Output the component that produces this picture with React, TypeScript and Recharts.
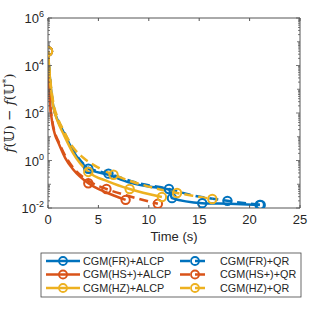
import React from "react";
import { LineChart, Line, XAxis, YAxis } from "recharts";

// time (s) and f(U) - f(U*) values
const frAlcpT = [0, 0.1, 0.25, 0.5, 1, 1.5, 2.5, 4, 6, 8, 10, 12, 12.3, 15.3, 18, 21];
const frAlcpV = [4e4, 9e3, 1.5e3, 220, 45, 17, 2.5, 0.45, 0.25, 0.12, 0.08, 0.06, 0.026, 0.016, 0.015, 0.0135];
const frAlcpM = [0, 4, 12.3, 15.3, 21];

const frQrT = [0, 0.1, 0.25, 0.5, 1, 1.5, 2.5, 4, 6, 9, 12, 14, 17.8, 21.1];
const frQrV = [4e4, 1e4, 1.7e3, 250, 50, 19, 2.8, 0.5, 0.28, 0.11, 0.063, 0.037, 0.02, 0.0135];
const frQrM = [0, 6, 12, 17.8, 21.1];

const hsAlcpT = [0, 0.1, 0.2, 0.4, 0.7, 1.0, 1.7, 2.5, 4, 5.8, 7.7];
const hsAlcpV = [4e4, 2.5e3, 280, 45, 12, 6, 1.3, 0.42, 0.11, 0.045, 0.022];
const hsAlcpM = [0, 4, 7.7];

const hsQrT = [0, 0.1, 0.2, 0.4, 0.7, 1.0, 1.7, 2.5, 4, 5.8, 8, 10.9];
const hsQrV = [4e4, 3e3, 330, 55, 14, 7, 1.6, 0.5, 0.14, 0.063, 0.032, 0.015];
const hsQrM = [0, 5.8, 10.9];

const hzAlcpT = [0, 0.1, 0.25, 0.5, 1, 1.5, 2.5, 4, 6, 8.1, 11.3];
const hzAlcpV = [4e4, 1e4, 1.6e3, 220, 40, 14, 2, 0.33, 0.13, 0.063, 0.029];
const hzAlcpM = [0, 4, 8.1, 11.3];

const hzQrT = [0, 0.1, 0.25, 0.5, 1, 1.5, 2.5, 3.5, 5, 6.5, 8.3, 10.5, 12.8, 14.5, 16.3];
const hzQrV = [4e4, 1.1e4, 2e3, 320, 56, 20, 3.5, 1.3, 0.5, 0.25, 0.13, 0.07, 0.043, 0.032, 0.024];
const hzQrM = [0, 6.5, 12.8, 16.3];

const xTicks = [0, 5, 10, 15, 20, 25];
const yMajor = [0.01, 1, 100, 1e4, 1e6];
const yMajorExp = ["-2", "0", "2", "4", "6"];
const yDecades = [0.01, 0.1, 1, 10, 100, 1e3, 1e4, 1e5];
const yMinorMul = [2, 3, 4, 5, 6, 7, 8, 9];

const legendLeft = ["CGM(FR)+ALCP", "CGM(HS+)+ALCP", "CGM(HZ)+ALCP"];
const legendRight = ["CGM(FR)+QR", "CGM(HS+)+QR", "CGM(HZ)+QR"];

const BLUE = "#0072BD";
const ORANGE = "#D95319";
const YELLOW = "#EDB120";
const colors = [BLUE, ORANGE, YELLOW];
const AX = "#555";
const TXT = "#262626";
const FONT = "Liberation Sans, Arial, sans-serif";

const build = (t: number[], v: number[], m: number[]) =>
  t.map((x, i) => ({ t: x, v: v[i], m: m.includes(x) }));

const yAllTicks: number[] = [...yMajor];
yDecades.forEach((d) => {
  if (!yMajor.includes(d)) yAllTicks.push(d);
  yMinorMul.forEach((k) => yAllTicks.push(+(d * k).toPrecision(3)));
});

const makeDot = (color: string) => (props: any) => {
  const { cx, cy, payload, index } = props;
  if (!payload.m || cx == null || cy == null) return <g key={`d${index}`} />;
  return <circle key={`d${index}`} cx={cx} cy={cy} r={4.2} fill="none" stroke={color} strokeWidth={2} />;
};

const BottomTick = (props: any) => {
  const { x, y, payload } = props;
  return (
    <g>
      <line x1={x} x2={x} y1={y} y2={y - 3} stroke={AX} />
      <text x={x} y={y + 16} textAnchor="middle" fontSize={13} fill={TXT} fontFamily={FONT}>
        {payload.value}
      </text>
    </g>
  );
};

const TopTick = (props: any) => {
  const { x, y } = props;
  return <line x1={x} x2={x} y1={y} y2={y + 3} stroke={AX} />;
};

const LeftTick = (props: any) => {
  const { x, y, payload } = props;
  const idx = yMajor.indexOf(payload.value);
  const len = idx >= 0 ? 4 : yDecades.includes(payload.value) ? 3 : 2;
  return (
    <g>
      <line x1={x} x2={x + len} y1={y} y2={y} stroke={AX} strokeWidth={0.8} />
      {idx >= 0 && (
        <text x={x - 4} y={y + 5} textAnchor="end" fontSize={13} fill={TXT} fontFamily={FONT}>
          <tspan>10</tspan>
          <tspan dy={-6} fontSize={9}>{yMajorExp[idx]}</tspan>
        </text>
      )}
    </g>
  );
};

const RightTick = (props: any) => {
  const { x, y, payload } = props;
  const len = yMajor.includes(payload.value) ? 4 : yDecades.includes(payload.value) ? 3 : 2;
  return <line x1={x} x2={x - len} y1={y} y2={y} stroke={AX} strokeWidth={0.8} />;
};

const series = [
  { key: "frAlcp", data: build(frAlcpT, frAlcpV, frAlcpM), color: BLUE, dash: undefined },
  { key: "hsAlcp", data: build(hsAlcpT, hsAlcpV, hsAlcpM), color: ORANGE, dash: undefined },
  { key: "frQr", data: build(frQrT, frQrV, frQrM), color: BLUE, dash: "9 5" },
  { key: "hsQr", data: build(hsQrT, hsQrV, hsQrM), color: ORANGE, dash: "9 5" },
  { key: "hzAlcp", data: build(hzAlcpT, hzAlcpV, hzAlcpM), color: YELLOW, dash: undefined },
  { key: "hzQr", data: build(hzQrT, hzQrV, hzQrM), color: YELLOW, dash: "9 5" },
];

const Overlay = () => (
  <svg width={332} height={332} style={{ position: "absolute", left: 0, top: 0, pointerEvents: "none" }}>
    <text transform="translate(14,113) rotate(-90)" textAnchor="middle" fontSize={13.5} fill={TXT} fontFamily="DejaVu Serif, serif">
      <tspan fontStyle="italic">f</tspan>
      <tspan>(𝕌) − </tspan>
      <tspan fontStyle="italic">f</tspan>
      <tspan>(𝕌</tspan>
      <tspan dy={-5} fontSize={9}>*</tspan>
      <tspan dy={5}>)</tspan>
    </text>
    <text x={174} y={241} textAnchor="middle" fontSize={13} fill={TXT} fontFamily={FONT}>Time (s)</text>
    <rect x={41} y={253} width={260} height={44} fill="white" stroke="#444" strokeWidth={0.8} />
    {legendLeft.map((name, i) => {
      const y = 261 + i * 13.5;
      return (
        <g key={name}>
          <line x1={46} x2={80} y1={y} y2={y} stroke={colors[i]} strokeWidth={2.5} />
          <circle cx={63} cy={y} r={4} fill="none" stroke={colors[i]} strokeWidth={1.8} />
          <text x={83} y={y + 3.8} fontSize={10.8} fill={TXT} fontFamily={FONT}>{name}</text>
        </g>
      );
    })}
    {legendRight.map((name, i) => {
      const y = 261 + i * 13.5;
      return (
        <g key={name}>
          <line x1={180} x2={208} y1={y} y2={y} stroke={colors[i]} strokeWidth={2.5} strokeDasharray="10 5" />
          <circle cx={195} cy={y} r={4} fill="none" stroke={colors[i]} strokeWidth={1.8} />
          <text x={220} y={y + 3.8} fontSize={10.8} fill={TXT} fontFamily={FONT}>{name}</text>
        </g>
      );
    })}
  </svg>
);

export default function App() {
  return (
    <div style={{ position: "absolute", left: 0, top: 0, width: 332, height: 332, background: "white" }}>
      <LineChart width={332} height={332} margin={{ top: 17, right: 31, bottom: 94, left: 8 }}>
        <XAxis
          xAxisId="b"
          dataKey="t"
          type="number"
          domain={[0, 25]}
          ticks={xTicks}
          allowDataOverflow
          height={30}
          tickSize={0}
          tickMargin={0}
          tickLine={false}
          axisLine={{ stroke: AX }}
          tick={<BottomTick />}
          interval={0}
        />
        <XAxis
          xAxisId="top"
          orientation="top"
          dataKey="t"
          type="number"
          domain={[0, 25]}
          ticks={xTicks}
          allowDataOverflow
          height={1}
          tickSize={0}
          tickMargin={0}
          tickLine={false}
          axisLine={{ stroke: AX }}
          tick={<TopTick />}
          interval={0}
        />
        <YAxis
          yAxisId="l"
          scale="log"
          type="number"
          domain={[0.01, 1e6]}
          ticks={yAllTicks}
          allowDataOverflow
          width={40}
          tickSize={0}
          tickMargin={0}
          tickLine={false}
          axisLine={{ stroke: AX }}
          tick={<LeftTick />}
          interval={0}
        />
        <YAxis
          yAxisId="r"
          orientation="right"
          scale="log"
          type="number"
          domain={[0.01, 1e6]}
          ticks={yAllTicks}
          allowDataOverflow
          width={1}
          tickSize={0}
          tickMargin={0}
          tickLine={false}
          axisLine={{ stroke: AX }}
          tick={<RightTick />}
          interval={0}
        />
        {series.map((s) => (
          <Line
            key={s.key}
            xAxisId="b"
            yAxisId="l"
            data={s.data}
            dataKey="v"
            type="monotone"
            stroke={s.color}
            strokeWidth={2.5}
            strokeDasharray={s.dash}
            dot={makeDot(s.color)}
            activeDot={false}
            isAnimationActive={false}
          />
        ))}
      </LineChart>
      <Overlay />
    </div>
  );
}
